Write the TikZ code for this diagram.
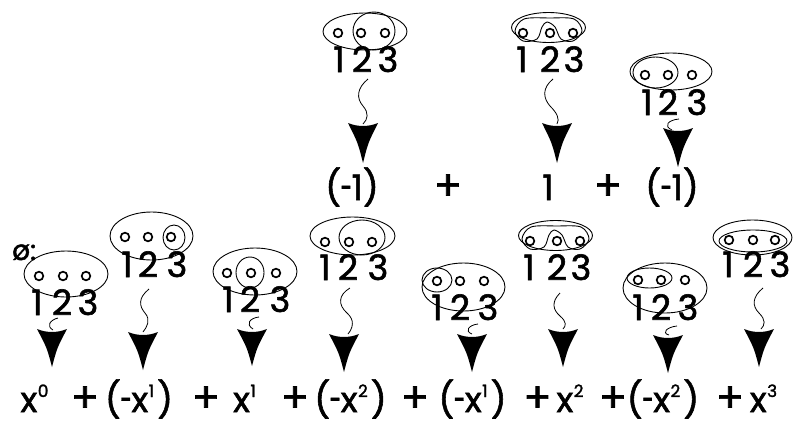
\documentclass[tikz,border=0pt]{standalone}
\usepackage{graphicx}
\usepackage{fontspec}
\setmainfont{Poppins}[FakeBold=1.6]
\newcommand\ahd[3]{%
  \fill (#1-15,#2-#3) .. controls (#1-5,#2-#3+4) and (#1+5,#2-#3+4) .. (#1+15,#2-#3)
     .. controls (#1+5,#2-#3*0.5) .. (#1,#2) .. controls (#1-5,#2-#3*0.5) .. cycle;}
\newcommand\pw[2]{#1\kern0.5pt\raisebox{15pt}{\fontsize{17}{17}\selectfont #2}}
\newcommand\hy{\kern-0.5pt\scalebox{0.6}[1]{-}\kern-0.5pt}
\newcommand\pl{{\fontsize{41}{41}\selectfont +}}
\begin{document}
\begin{tikzpicture}[x=1pt,y=-1pt,
  ell/.style={line width=0.9pt},
  dotc/.style={line width=1.7pt},
  sq/.style={line width=0.8pt},
  dig/.style={font=\fontsize{35}{35}\selectfont, anchor=base, inner sep=0pt},
  expr/.style={font=\fontsize{35}{35}\selectfont, anchor=base, inner sep=0pt}]
\useasboundingbox (0,0) rectangle (793,424);
% ---------- helper for dots ----------
\def\dots#1#2#3#4{\foreach \xx in {#1,#2,#3} \draw[dotc] (\xx,#4) circle [radius=4.3pt];}
\def\digs#1#2#3#4{\node[dig] at (#1,#4) {1}; \node[dig] at (#2,#4) {2}; \node[dig] at (#3,#4) {3};}
% ---------- top D1 ----------
\draw[ell] (365,31.5) ellipse [x radius=42pt, y radius=18.5pt];
\draw[ell] (374,31) ellipse [x radius=21pt, y radius=19pt];
\dots{338}{361}{385}{33}
\digs{339}{362}{388}{72}
% ---------- top D2 ----------
\begin{scope}[shift={(550,33)}]
\draw[ell] (-1.5,-5.5) ellipse [x radius=37pt, y radius=15pt];
\draw[ell] plot[smooth cycle, tension=0.55] coordinates {(-13,6) (-8,-6) (-3,-11) (5,-6) (11,6) (23,8) (32,-2) (24,-14) (0,-15) (-26,-14) (-35,-2) (-27,8)};
\dots{-27}{0}{23}{0}
\digs{-28}{0}{24}{39}
\end{scope}
% ---------- top D3 ----------
\draw[ell] (671,71.5) ellipse [x radius=41pt, y radius=18.5pt];
\draw[ell] (655.5,72.5) ellipse [x radius=22.5pt, y radius=15.5pt];
\dots{645}{668}{692}{75}
\digs{647}{668}{697}{115}
% ---------- top arrows ----------
\draw[sq] (368,79) .. controls (357,88) and (356,98) .. (363,106) .. controls (369,113) and (368,119) .. (363,124);
\ahd{363}{163}{40}
\draw[sq] (553,79) .. controls (542,88) and (543,98) .. (550,106) .. controls (557,113) and (560,119) .. (557,124);
\ahd{557}{163}{40}
\draw[sq] (679,119) .. controls (668,120) and (663,126) .. (672,130);
\ahd{678}{167}{39}
% ---------- top expression ----------
\node[expr] at (352,200) {(\hy1)};
\node[expr] at (448,200) {\pl};
\node[expr] at (548,200) {1};
\node[expr] at (608,200) {\pl};
\node[expr] at (672,200) {(\hy1)};
% ---------- bottom D1 ----------
\node[font=\fontsize{28}{28}\selectfont, anchor=base west, inner sep=0pt] at (12,260) {ø:};
\draw[ell] (66,274) ellipse [x radius=42pt, y radius=23pt];
\dots{39}{63}{86}{276}
\digs{37}{62}{88}{315}
% ---------- bottom D2 ----------
\draw[ell] (151.5,236) ellipse [x radius=41.5pt, y radius=24pt];
\draw[ell] (174,237.5) ellipse [x radius=11pt, y radius=12.5pt];
\dots{125}{148}{171}{237}
\digs{127}{148}{177}{277}
% ---------- bottom D3 ----------
\draw[ell] (255,271.5) ellipse [x radius=42pt, y radius=23.5pt];
\draw[ell] (250,272.5) ellipse [x radius=14pt, y radius=15.5pt];
\dots{227}{251}{276}{273}
\digs{228}{250}{280}{312}
% ---------- bottom D4 ----------
\draw[ell] (352.5,236) ellipse [x radius=42.5pt, y radius=19pt];
\draw[ell] (362,237.5) ellipse [x radius=23pt, y radius=17.5pt];
\dots{325}{349}{372}{242}
\digs{325}{348}{378}{280}
% ---------- bottom D5 ----------
\draw[ell] (463.5,287) ellipse [x radius=41.5pt, y radius=24pt];
\draw[ell] (437,280) ellipse [x radius=15pt, y radius=12pt];
\dots{437}{460}{484}{281}
\digs{437}{460}{488}{320}
% ---------- bottom D6 ----------
\begin{scope}[shift={(557,241)}]
\draw[ell] (-1.5,-5.5) ellipse [x radius=37pt, y radius=15pt];
\draw[ell] plot[smooth cycle, tension=0.55] coordinates {(-13,6) (-8,-6) (-3,-11) (5,-6) (11,6) (23,8) (32,-2) (24,-14) (0,-15) (-26,-14) (-35,-2) (-27,8)};
\dots{-27}{0}{23}{0}
\digs{-28}{0}{24}{39}
\end{scope}
% ---------- bottom D7 ----------
\draw[ell] (665,288) ellipse [x radius=42pt, y radius=25pt];
\draw[ell] (649.5,278) ellipse [x radius=22.5pt, y radius=10pt];
\dots{638}{661}{685}{280}
\digs{638}{661}{688}{320}
% ---------- bottom D8 ----------
\draw[ell] (752.5,237.5) ellipse [x radius=39.5pt, y radius=17.5pt];
\draw[ell] (753,241) ellipse [x radius=34pt, y radius=11pt];
\dots{729}{753}{775}{240}
\digs{728}{753}{780}{277}
% ---------- bottom arrows ----------
\draw[sq] (58,318) .. controls (50,320) and (46,326) .. (53,330);
\ahd{52}{367}{38}
\draw[sq] (149,289) .. controls (138,298) and (139,306) .. (145,313) .. controls (151,320) and (147,327) .. (143,332);
\ahd{143}{370}{38}
\draw[sq] (259,317) .. controls (250,318) and (245,324) .. (253,329);
\ahd{252}{366}{37}
\draw[sq] (350,288) .. controls (338,295) and (338,305) .. (347,313) .. controls (355,320) and (353,328) .. (348,334);
\ahd{344}{372}{38}
\draw[sq] (478,324) .. controls (469,325) and (464,331) .. (472,334);
\ahd{472}{372}{38}
\draw[sq] (560,293) .. controls (551,302) and (553,310) .. (560,316) .. controls (567,322) and (566,326) .. (563,329);
\ahd{563}{367}{38}
\draw[sq] (677,326) .. controls (667,327) and (661,333) .. (669,335);
\ahd{668}{373}{38}
\draw[sq] (763,288) .. controls (752,297) and (752,306) .. (759,313) .. controls (766,320) and (765,325) .. (761,329);
\ahd{759}{367}{38}
% ---------- bottom expression ----------
\node[expr] at (34.5,412) {\pw{x}{0}};
\node[expr] at (85,412) {\pl};
\node[expr] at (139,412) {(\hy\pw{x}{1}\kern3pt)};
\node[expr] at (206,412) {\pl};
\node[expr] at (244.5,412) {\pw{x}{1}};
\node[expr] at (295,412) {\pl};
\node[expr] at (350.5,412) {(\hy\pw{x}{2}\kern3pt)};
\node[expr] at (415,412) {\pl};
\node[expr] at (472.5,412) {(\hy\pw{x}{1}\kern3pt)};
\node[expr] at (537.5,412) {\pl};
\node[expr] at (570,412) {\pw{x}{2}};
\node[expr] at (613,412) {\pl};
\node[expr] at (663,412) {(\hy\pw{x}{2}\kern3pt)};
\node[expr] at (730,412) {\pl};
\node[expr] at (763.5,412) {\pw{x}{3}};
\end{tikzpicture}
\end{document}
